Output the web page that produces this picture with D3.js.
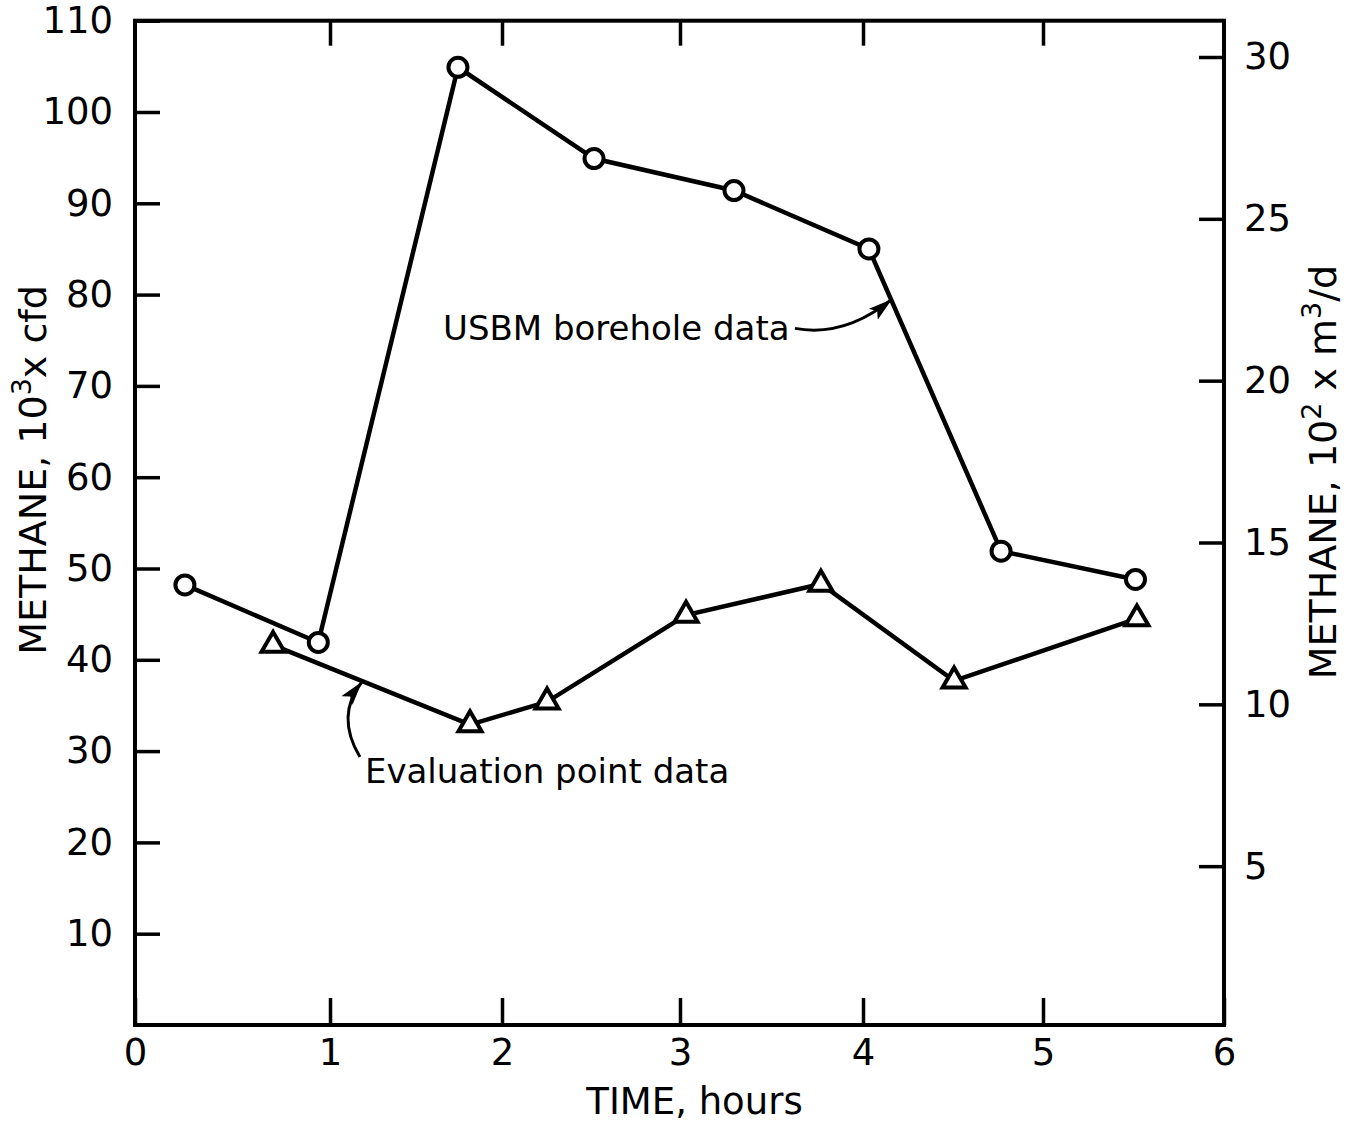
<!DOCTYPE html>
<html>
<head>
<meta charset="utf-8">
<script src="https://cdn.jsdelivr.net/npm/d3@7"></script>
<style>
  body { margin: 0; background: #fff; }
  text { font-family: "DejaVu Sans", sans-serif; fill: #000; }
</style>
</head>
<body>
<script>
// USBM borehole data (circles)
var usbmTime = [0.256, 0.94, 1.744, 2.517, 3.295, 4.033, 4.767, 5.511];
var usbmValue = [48.2, 41.9, 104.9, 94.9, 91.4, 85.0, 51.9, 48.8];

// Evaluation point data (triangles)
var evalTime = [0.708, 1.814, 2.253, 3.033, 3.77, 4.506, 5.519];
var evalValue = [41.6, 32.9, 35.4, 44.9, 48.3, 37.7, 44.5];

var xTicks = [0, 1, 2, 3, 4, 5, 6];
var yTicks = [10, 20, 30, 40, 50, 60, 70, 80, 90, 100, 110];
var y2Ticks = [5, 10, 15, 20, 25, 30];

var width = 1357,
    height = 1125;

var svg = d3.select('body')
    .append('svg')
    .attr('width', width)
    .attr('height', height)

// hand-drawn x axis is not quite even, so map each hour to its tick
var xScale = d3.scaleLinear()
    .domain(xTicks)
    .range([135, 330, 502, 680, 863, 1043, 1224])
var yScale = d3.scaleLinear()
    .domain([0, 110])
    .range([1025, 20.7])
var y2Scale = d3.scaleLinear()
    .domain([0, 30])
    .range([1028, 57])

var plotL = xScale(0), plotR = xScale(6), plotT = yScale(110), plotB = yScale(0);

function styleAxis(g) {
    g.select('.domain').remove()
    g.selectAll('.tick line').attr('stroke', '#000').attr('stroke-width', 3.5)
    g.selectAll('.tick text').style('font-size', '37px').style('font-family', '"DejaVu Sans", sans-serif')
}

svg.append('g')
    .attr('transform', `translate(0, ${plotB})`)
    .call(d3.axisBottom(xScale).tickValues(xTicks).tickFormat(d3.format('d'))
        .tickSizeInner(-27).tickSizeOuter(0).tickPadding(14))
    .call(styleAxis)
svg.append('g')
    .attr('transform', `translate(0, ${plotT})`)
    .call(d3.axisTop(xScale).tickValues([1, 2, 3, 4, 5]).tickFormat('')
        .tickSizeInner(-25).tickSizeOuter(0))
    .call(styleAxis)
svg.append('g')
    .attr('transform', `translate(${plotL}, 0)`)
    .call(d3.axisLeft(yScale).tickValues(yTicks).tickFormat(d3.format('d'))
        .tickSizeInner(-25).tickSizeOuter(0).tickPadding(22))
    .call(styleAxis)
svg.append('g')
    .attr('transform', `translate(${plotR}, 0)`)
    .call(d3.axisRight(y2Scale).tickValues(y2Ticks).tickFormat(d3.format('d'))
        .tickSizeInner(-25).tickSizeOuter(0).tickPadding(20))
    .call(styleAxis)

// frame
svg.append('rect')
    .attr('x', plotL).attr('y', plotT)
    .attr('width', plotR - plotL).attr('height', plotB - plotT)
    .attr('fill', 'none').attr('stroke', '#000').attr('stroke-width', 4)

// axis titles
svg.append('text')
    .attr('x', (plotL + plotR) / 2 + 15).attr('y', 1114)
    .attr('text-anchor', 'middle')
    .style('font-size', '37px')
    .text('TIME, hours')

var lt = svg.append('text')
    .attr('transform', 'translate(46, 470) rotate(-90)')
    .attr('text-anchor', 'middle')
    .style('font-size', '38px')
lt.append('tspan').text('METHANE, 10')
lt.append('tspan').attr('dy', -15).style('font-size', '27px').text('3')
lt.append('tspan').attr('dy', 15).text('x cfd')

var rt = svg.append('text')
    .attr('transform', 'translate(1336, 472) rotate(-90)')
    .attr('text-anchor', 'middle')
    .style('font-size', '38px')
rt.append('tspan').text('METHANE, 10')
rt.append('tspan').attr('dy', -15).style('font-size', '27px').text('2')
rt.append('tspan').attr('dy', 15).text(' x m')
rt.append('tspan').attr('dy', -15).style('font-size', '27px').text('3')
rt.append('tspan').attr('dy', 15).text('/d')

// lines
var line = d3.line()
    .x(d => xScale(d[0]))
    .y(d => yScale(d[1]))

var usbm = usbmTime.map((t, i) => [t, usbmValue[i]])
var evalPts = evalTime.map((t, i) => [t, evalValue[i]])

svg.append('path')
    .attr('d', line(evalPts))
    .attr('fill', 'none').attr('stroke', '#000').attr('stroke-width', 4.5)
svg.append('path')
    .attr('d', line(usbm))
    .attr('fill', 'none').attr('stroke', '#000').attr('stroke-width', 4.5)

svg.selectAll('.tri')
    .data(evalPts)
    .enter().append('path')
    .attr('class', 'tri')
    .attr('transform', d => `translate(${xScale(d[0])}, ${yScale(d[1])})`)
    .attr('d', d3.symbol(d3.symbolTriangle, 230))
    .attr('fill', '#fff').attr('stroke', '#000').attr('stroke-width', 4)

svg.selectAll('.circ')
    .data(usbm)
    .enter().append('circle')
    .attr('class', 'circ')
    .attr('cx', d => xScale(d[0]))
    .attr('cy', d => yScale(d[1]))
    .attr('r', 9.5)
    .attr('fill', '#fff').attr('stroke', '#000').attr('stroke-width', 4)

// annotations: label position, then curve start / control / arrow tip in data units
var usbmNote = { text: 'USBM borehole data', at: [1.657, 75.0], curve: [[3.628, 76.3], [3.90, 75.3], [4.161, 79.5]] }
var evalNote = { text: 'Evaluation point data', at: [1.203, 26.5], curve: [[1.174, 29.35], [1.03, 33.9], [1.186, 37.6]] }

svg.append('defs').append('marker')
    .attr('id', 'arrow')
    .attr('viewBox', '0 0 24 14')
    .attr('refX', 24).attr('refY', 7)
    .attr('markerWidth', 24).attr('markerHeight', 14)
    .attr('markerUnits', 'userSpaceOnUse')
    .attr('orient', 'auto')
    .append('path')
    .attr('d', 'M0,0 L24,7 L0,14 L5,7 Z')
    .attr('fill', '#000')

;[usbmNote, evalNote].forEach(n => {
    svg.append('text')
        .attr('x', xScale(n.at[0])).attr('y', yScale(n.at[1]))
        .style('font-size', '34px')
        .text(n.text)
    var p = n.curve.map(c => [xScale(c[0]), yScale(c[1])])
    svg.append('path')
        .attr('d', `M${p[0][0]},${p[0][1]} Q${p[1][0]},${p[1][1]} ${p[2][0]},${p[2][1]}`)
        .attr('fill', 'none').attr('stroke', '#000').attr('stroke-width', 3)
        .attr('marker-end', 'url(#arrow)')
})
</script>
</body>
</html>
